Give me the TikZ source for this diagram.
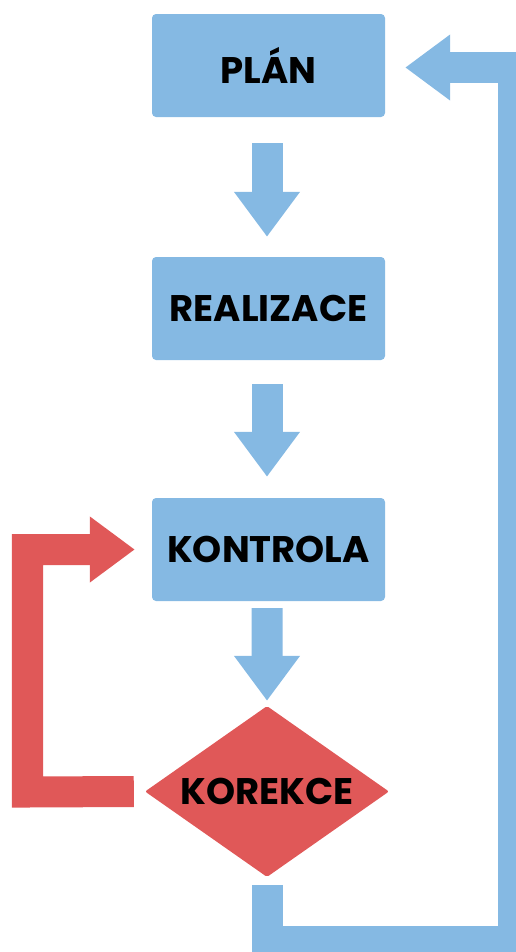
\documentclass[tikz,border=0pt]{standalone}
\usepackage{fontspec}
\setmainfont{Poppins}
\usetikzlibrary{shapes.geometric,arrows.meta}
\definecolor{boxblue}{RGB}{133,185,227}
\definecolor{corred}{RGB}{224,88,88}
\begin{document}
\begin{tikzpicture}[x=1bp,y=-1bp,
  stepbox/.style={rectangle, fill=boxblue, rounded corners=4bp, minimum width=233bp, minimum height=103bp, inner sep=0pt, font=\fontsize{37bp}{42bp}\selectfont\bfseries},
  decbox/.style={diamond, aspect=1.427, fill=corred, rounded corners=2bp, minimum width=244bp, minimum height=171bp, inner sep=0pt, font=\fontsize{37bp}{42bp}\selectfont\bfseries},
  blockarrow/.style={line width=31bp, line join=miter, line cap=butt, -{Triangle[width=63bp,length=45bp]}},
  bluearrow/.style={blockarrow, draw=boxblue},
  redarrow/.style={blockarrow, draw=corred}]
\path[use as bounding box, clip] (0,0) rectangle (516,952);
\node[stepbox] (plan) at (268.5,65.5) {PLÁN};
\node[stepbox] (real) at (268.5,308.5) {REALIZACE};
\node[stepbox] (kon) at (268.5,549.5) {KONTROLA};
\node[decbox] (kor) at (267,791.5) {KOREKCE};
\coordinate (br) at (513.5,941.5);
\coordinate (bl) at (27.5,792);
\draw[bluearrow] ([xshift=-1.5bp,yshift=-26bp]plan.south) -- ([xshift=-1.5bp,yshift=20bp]real.north);
\draw[bluearrow] ([xshift=-1.5bp,yshift=-24bp]real.south) -- ([xshift=-1.5bp,yshift=21bp]kon.north);
\draw[bluearrow] ([xshift=-1.5bp,yshift=-7bp]kon.south) -- ([yshift=5bp]kor.north);
\draw[bluearrow] ([yshift=-8bp]kor.south) |- (br) |- ([xshift=20bp,yshift=-2bp]plan.east);
\draw[redarrow] ([xshift=-11bp]kor.west) -- (bl) |- ([xshift=-17bp]kon.west);
\end{tikzpicture}
\end{document}
